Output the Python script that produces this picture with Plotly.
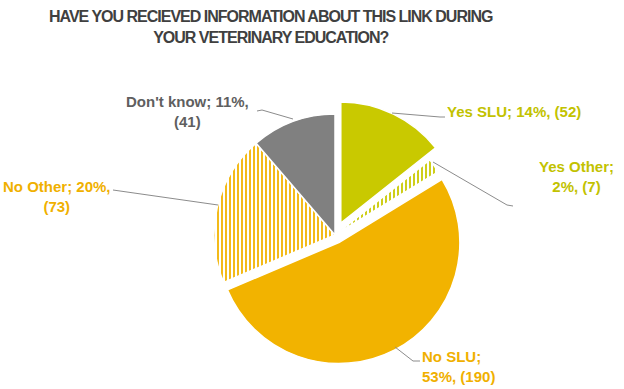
import plotly.graph_objects as go

categories = ["Yes SLU", "Yes Other", "No SLU", "No Other", "Don't know"]
counts = [52, 7, 190, 73, 41]
percents = [14, 2, 53, 20, 11]

colors = ["#C9C900", "#C9C900", "#F2B300", "#F2B300", "#808080"]
label_colors = ["#C2C200", "#C2C200", "#F0B000", "#F0B000", "#5F5F5F"]
pulls = [0.11, 0, 0.07, 0, 0]
shapes_pat = ["", "|", "", "|", ""]

W, H = 624, 389
def px(x, y):
    return x / W, 1 - y / H

CX, CY, R = 335, 235, 121
HALF = R * (1 + max(pulls))
fig = go.Figure(go.Pie(
    labels=categories, values=counts, sort=False, direction="clockwise", rotation=0,
    pull=pulls, textinfo="none", hoverinfo="label+value+percent",
    marker=dict(colors=colors, line=dict(color="white", width=1.5),
                pattern=dict(shape=shapes_pat, fgcolor=colors, bgcolor="white",
                             size=4, solidity=0.45, fillmode="replace")),
    domain=dict(x=[(CX - HALF) / W, (CX + HALF) / W],
                y=[(H - CY - HALF) / H, (H - CY + HALF) / H]),
    showlegend=False,
))

# label positions (pixel) and leader polylines
label_specs = [
    (445, 112, "left", "left", "{c}; {p}%, ({n})"),
    (576, 176, "center", "center", "{c};<br>{p}%, ({n})"),
    (420, 366, "left", "left", "{c};<br>{p}%, ({n})"),
    (57, 196, "center", "center", "{c}; {p}%,<br>({n})"),
    (187, 112, "center", "center", "{c}; {p}%,<br>({n})"),
]
leaders = [
    [(392, 113), (440, 117), (445, 117)],
    [(433, 162), (507, 205), (513, 206)],
    [(395, 347), (413, 361), (420, 361)],
    [(113, 190), (218, 205)],
    [(257, 111), (262, 110), (293, 119)],
]

annotations = []
for i, (x, y, anchor, align, fmt) in enumerate(label_specs):
    ax, ay = px(x, y)
    annotations.append(dict(
        x=ax, y=ay, xref="paper", yref="paper", showarrow=False,
        xanchor=anchor, yanchor="middle", align=align,
        text=fmt.format(c=categories[i], p=percents[i], n=counts[i]),
        font=dict(family="Liberation Sans, Arial, sans-serif", size=15,
                  color=label_colors[i], weight="bold"),
    ))

shapes = []
for pts in leaders:
    path = ""
    for j, (x, y) in enumerate(pts):
        fx, fy = px(x, y)
        path += ("M" if j == 0 else "L") + f"{fx},{fy} "
    shapes.append(dict(type="path", xref="paper", yref="paper", path=path.strip(),
                       line=dict(color="#8C8C8C", width=1)))

tx, ty = px(271, 27)
title_lines = ["HAVE YOU RECIEVED INFORMATION ABOUT THIS LINK DURING",
               "YOUR VETERINARY EDUCATION?"]
annotations.append(dict(
    x=tx, y=ty, xref="paper", yref="paper", showarrow=False,
    xanchor="center", yanchor="middle", align="center",
    text="<br>".join('<span style="letter-spacing:-1px">' + t + "</span>" for t in title_lines),
    font=dict(family="Liberation Sans, Arial, sans-serif", size=16,
              color="#404040", weight="bold"),
))

fig.update_layout(
    width=W, height=H, margin=dict(l=0, r=0, t=0, b=0),
    paper_bgcolor="white", plot_bgcolor="white",
    annotations=annotations, shapes=shapes,
)
fig.write_html("out.html", config={"displayModeBar": False},
               post_script="document.body.style.margin='0';")
